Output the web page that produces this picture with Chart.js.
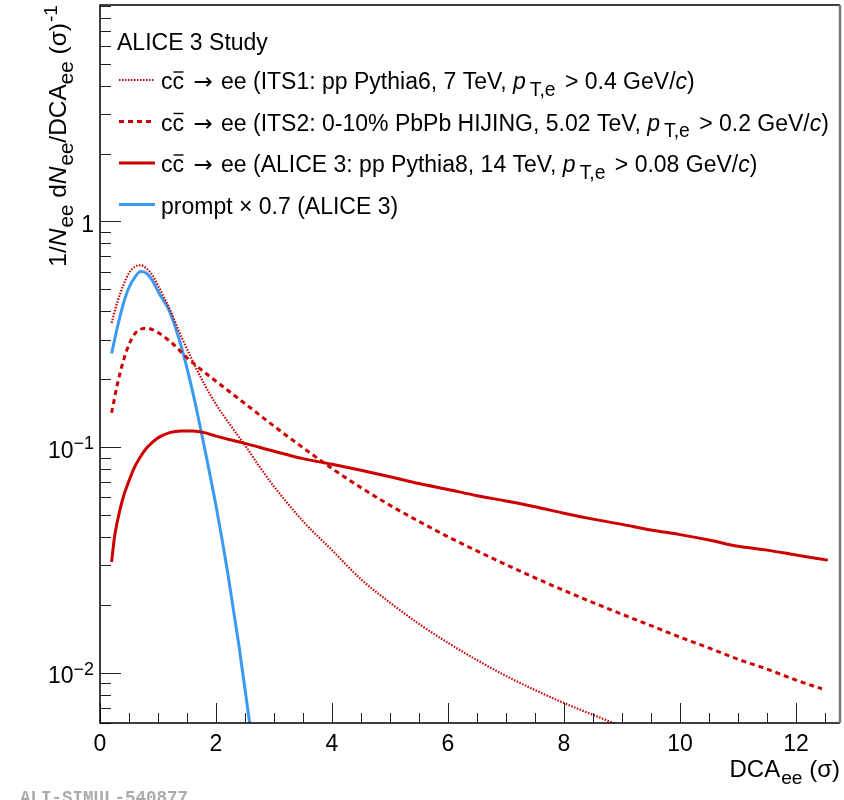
<!DOCTYPE html>
<html>
<head>
<meta charset="utf-8">
<script src="https://cdn.jsdelivr.net/npm/chart.js@4.4.1/dist/chart.umd.min.js"></script>
<style>
  html, body { margin: 0; padding: 0; background: #fff; }
  #wrap { width: 844px; height: 800px; position: relative; }
</style>
</head>
<body>
<div id="wrap"><canvas id="dca-chart"></canvas></div>
<script>
// values, x = DCA_ee in units of sigma
const its1X = [0.2, 0.3, 0.4, 0.5, 0.6, 0.7, 0.8, 0.9, 1.0, 1.2, 1.4, 1.6, 1.8, 2.0, 2.25, 2.5, 2.75, 3.0, 3.5, 4.0, 4.5, 5.0, 5.5, 6.0, 6.5, 7.0, 7.5, 8.0, 8.5, 9.0];
const its1Y = [0.355, 0.44, 0.52, 0.59, 0.63, 0.64, 0.62, 0.58, 0.52, 0.41, 0.31, 0.24, 0.19, 0.155, 0.125, 0.102, 0.082, 0.067, 0.047, 0.035, 0.026, 0.0205, 0.0165, 0.0136, 0.0114, 0.0097, 0.0084, 0.00736, 0.00652, 0.0058];

const its2X = [0.2, 0.3, 0.4, 0.5, 0.6, 0.7, 0.8, 1.0, 1.25, 1.5, 1.75, 2.0, 2.5, 3.0, 3.5, 4.0, 4.5, 5.0, 5.5, 6.0, 6.5, 7.0, 7.5, 8.0, 8.5, 9.0, 9.5, 10.0, 10.5, 11.0, 11.5, 12.0, 12.45];
const its2Y = [0.142, 0.19, 0.24, 0.285, 0.318, 0.333, 0.337, 0.322, 0.288, 0.249, 0.22, 0.196, 0.156, 0.124, 0.0995, 0.0805, 0.0662, 0.0553, 0.0469, 0.0401, 0.0347, 0.0302, 0.0264, 0.0232, 0.0205, 0.0182, 0.0162, 0.0144, 0.0129, 0.0115, 0.0104, 0.0093, 0.0085];

const alice3X = [0.2, 0.25, 0.3, 0.4, 0.5, 0.6, 0.7, 0.8, 0.9, 1.0, 1.2, 1.4, 1.6, 1.8, 2.0, 2.5, 3.0, 3.5, 4.0, 4.5, 5.0, 5.5, 6.0, 6.5, 7.0, 7.5, 8.0, 8.5, 9.0, 9.5, 10.0, 10.5, 11.0, 11.5, 12.0, 12.55];
const alice3Y = [0.031, 0.040, 0.047, 0.060, 0.071, 0.082, 0.091, 0.099, 0.105, 0.110, 0.116, 0.118, 0.118, 0.116, 0.112, 0.104, 0.096, 0.089, 0.084, 0.079, 0.074, 0.069, 0.065, 0.061, 0.0578, 0.0545, 0.051, 0.048, 0.0455, 0.043, 0.041, 0.0388, 0.0364, 0.035, 0.0333, 0.0316];

const promptX = [0.2, 0.3, 0.4, 0.5, 0.6, 0.7, 0.8, 0.9, 1.0, 1.2, 1.4, 1.6, 1.8, 2.0, 2.2, 2.4, 2.6];
const promptY = [0.26, 0.34, 0.43, 0.51, 0.565, 0.60, 0.59, 0.55, 0.49, 0.40, 0.28, 0.175, 0.10, 0.055, 0.028, 0.013, 0.0055];

const seriesNames = ['ITS1 pp Pythia6', 'ITS2 PbPb HIJING', 'ALICE 3 pp Pythia8', 'prompt x 0.7'];
const xTicks = [0, 2, 4, 6, 8, 10, 12];
const yTicks = [0.01, 0.1, 1];
const yTickBase = ['10', '10', '1'];
const yTickExp = ['−2', '−1', ''];

const RED = '#cc0000';
const BLUE = '#3a9af2';
const FONT = '"Liberation Sans", Arial, Helvetica, sans-serif';
const SYM = '"DejaVu Sans", sans-serif';

function pts(xs, ys) {
    return xs.map((x, i) => ({ x: x, y: ys[i] }));
}

// small TLatex-like helper: pieces with italic / sub / sup / overline
function partFont(p, size) {
    const s = p.d ? size * (p.s || 0.78) : size;
    return (p.i ? 'italic ' : '') + s + 'px ' + (p.f || FONT);
}
function partWidth(ctx, p, size) {
    ctx.font = partFont(p, size);
    return ctx.measureText(p.t).width + (p.pad || 0);
}
function drawRich(ctx, x, y, parts, size, align) {
    let w = 0;
    parts.forEach(p => { w += partWidth(ctx, p, size); });
    let cx = align === 'right' ? x - w : (align === 'center' ? x - w / 2 : x);
    ctx.textAlign = 'left';
    ctx.textBaseline = 'alphabetic';
    parts.forEach(p => {
        ctx.font = partFont(p, size);
        const dy = p.d === 'sub' ? size * 0.3 : (p.d === 'sup' ? -size * 0.36 : 0);
        const mw = ctx.measureText(p.t).width;
        const px = cx + (p.pad || 0);
        ctx.fillText(p.t, px, y + dy);
        if (p.bar) {
            ctx.save();
            ctx.lineWidth = 1.4;
            ctx.strokeStyle = ctx.fillStyle;
            ctx.beginPath();
            ctx.moveTo(px + 1, y - size * 0.74);
            ctx.lineTo(px + mw - 0.5, y - size * 0.74);
            ctx.stroke();
            ctx.restore();
        }
        cx = px + mw;
    });
}

const ccbar = [{ t: 'c' }, { t: 'c', bar: true }, { t: ' ' }, { t: '→', f: SYM, pad: 3 }, { t: ' ee (', pad: 2 }];
function ptPart(cut) {
    return [{ t: 'p', i: true }, { t: 'T,e', d: 'sub', s: 0.84, pad: 4 }, { t: ' > ' + cut + ' GeV/', pad: 3 }, { t: 'c', i: true }, { t: ')' }];
}
const legendRows = [
    { color: RED, width: 2.2, dash: [1.5, 1.5], parts: ccbar.concat([{ t: 'ITS1: pp Pythia6, 7 TeV, ' }], ptPart('0.4')) },
    { color: RED, width: 3, dash: [5, 4], parts: ccbar.concat([{ t: 'ITS2: 0-10% PbPb HIJING, 5.02 TeV, ' }], ptPart('0.2')) },
    { color: RED, width: 3, dash: [], parts: ccbar.concat([{ t: 'ALICE 3: pp Pythia8, 14 TeV, ' }], ptPart('0.08')) },
    { color: BLUE, width: 3, dash: [], parts: [{ t: 'prompt × 0.7 (ALICE 3)' }] }
];

const rootFrame = {
    id: 'rootFrame',
    afterDatasetsDraw(chart) {
        const ctx = chart.ctx;
        const a = chart.chartArea;
        const xs = chart.scales.x, ys = chart.scales.y;
        ctx.save();
        // ticks inside the frame
        ctx.strokeStyle = '#222';
        ctx.lineWidth = 1;
        ctx.beginPath();
        for (let v = 0; v <= xs.max + 1e-9; v += 0.5) {
            const px = Math.round(xs.getPixelForValue(v)) + 0.5;
            const len = (Math.abs(v / 2 - Math.round(v / 2)) < 1e-6) ? 20 : 10;
            ctx.moveTo(px, a.bottom);
            ctx.lineTo(px, a.bottom - len);
        }
        for (let e = -3; e <= 0; e++) {
            for (let k = 1; k <= 9; k++) {
                const v = k * Math.pow(10, e);
                if (v < ys.min - 1e-9 || v > ys.max) continue;
                const py = Math.round(ys.getPixelForValue(v)) + 0.5;
                const len = k === 1 ? 21 : 11;
                ctx.moveTo(a.left, py);
                ctx.lineTo(a.left + len, py);
            }
        }
        ctx.stroke();
        // frame
        ctx.lineWidth = 1.5;
        ctx.strokeStyle = '#000';
        ctx.beginPath();
        ctx.moveTo(a.right, a.top);
        ctx.lineTo(a.left, a.top);
        ctx.lineTo(a.left, a.bottom);
        ctx.lineTo(a.right, a.bottom);
        ctx.stroke();
        ctx.strokeStyle = '#777';
        ctx.lineWidth = 2.5;
        ctx.beginPath();
        ctx.moveTo(a.right, a.top);
        ctx.lineTo(a.right, a.bottom);
        ctx.stroke();

        ctx.fillStyle = '#000';
        // x tick labels
        xTicks.forEach(v => {
            drawRich(ctx, xs.getPixelForValue(v), 751, [{ t: String(v) }], 23, 'center');
        });
        // y tick labels
        yTicks.forEach((v, i) => {
            const parts = [{ t: yTickBase[i] }];
            if (yTickExp[i]) parts.push({ t: yTickExp[i], d: 'sup' });
            drawRich(ctx, 94, ys.getPixelForValue(v) + 10.5, parts, 23, 'right');
        });
        // axis titles
        drawRich(ctx, 840, 777, [{ t: 'DCA' }, { t: 'ee', d: 'sub', s: 0.8, pad: 1 }, { t: ' (σ)' }], 24, 'right');
        ctx.save();
        ctx.translate(66, 5);
        ctx.rotate(-Math.PI / 2);
        drawRich(ctx, 0, 0, [{ t: '1/' }, { t: 'N', i: true }, { t: 'ee', d: 'sub', s: 0.84, pad: 1 }, { t: ' d' }, { t: 'N', i: true }, { t: 'ee', d: 'sub', s: 0.84, pad: 1 },
            { t: '/DCA' }, { t: 'ee', d: 'sub', s: 0.84 }, { t: ' (σ)' }, { t: '-1', d: 'sup', pad: 1 }], 24.5, 'right');
        ctx.restore();

        // legend
        drawRich(ctx, 117, 50, [{ t: 'ALICE 3 Study' }], 23, 'left');
        legendRows.forEach((row, i) => {
            const ly = 80 + i * 41.5;
            ctx.save();
            ctx.strokeStyle = row.color;
            ctx.lineWidth = row.width;
            ctx.setLineDash(row.dash);
            ctx.beginPath();
            ctx.moveTo(119, ly);
            ctx.lineTo(155, ly);
            ctx.stroke();
            ctx.restore();
            ctx.fillStyle = '#000';
            drawRich(ctx, 161, ly + 9, row.parts, 23, 'left');
        });

        // figure id
        ctx.fillStyle = '#ababab';
        ctx.font = 'bold 17.5px "Liberation Mono", "DejaVu Sans Mono", monospace';
        ctx.textAlign = 'left';
        ctx.fillText('ALI-SIMUL-540877', 20, 803);
        ctx.restore();
    }
};

new Chart(document.getElementById('dca-chart'), {
    type: 'line',
    data: {
        datasets: [
            {
                label: seriesNames[0],
                data: pts(its1X, its1Y),
                borderColor: RED,
                borderWidth: 2.2,
                borderDash: [1.5, 1.5],
                order: 1
            },
            {
                label: seriesNames[1],
                data: pts(its2X, its2Y),
                borderColor: RED,
                borderWidth: 3,
                borderDash: [5, 4],
                order: 2
            },
            {
                label: seriesNames[2],
                data: pts(alice3X, alice3Y),
                borderColor: RED,
                borderWidth: 3,
                order: 3
            },
            {
                label: seriesNames[3],
                data: pts(promptX, promptY),
                borderColor: BLUE,
                borderWidth: 3,
                order: 4
            }
        ]
    },
    options: {
        responsive: true,
        maintainAspectRatio: false,
        animation: false,
        events: [],
        layout: { padding: { left: 100, top: 5, right: 4, bottom: 77 } },
        elements: {
            point: { radius: 0 },
            line: { fill: false, cubicInterpolationMode: 'monotone' }
        },
        plugins: {
            legend: { display: false },
            tooltip: { enabled: false }
        },
        scales: {
            x: { type: 'linear', min: 0, max: 12.76, display: false },
            y: { type: 'logarithmic', min: 0.006, max: 9.1, display: false }
        }
    },
    plugins: [rootFrame]
});
</script>
</body>
</html>
